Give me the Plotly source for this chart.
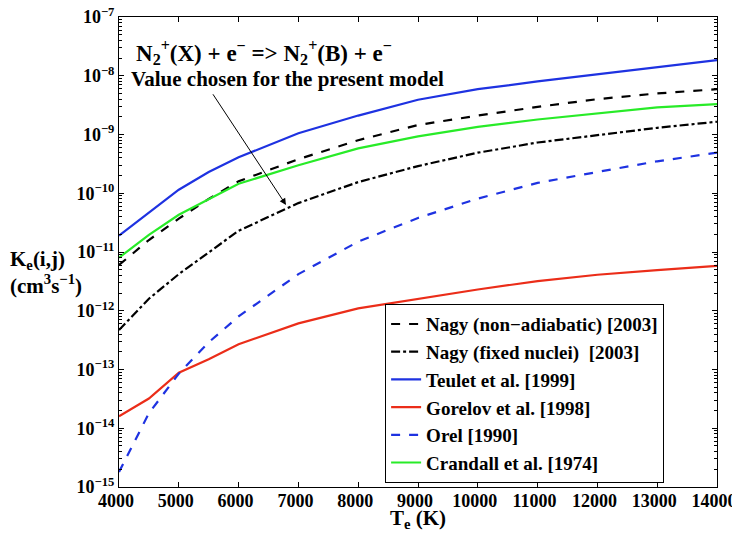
import plotly.graph_objects as go

# Electron temperature (K)
T = [4000, 4500, 5000, 5500, 6000, 7000, 8000, 9000, 10000, 11000, 12000, 13000, 14000]

nagy_nonadiabatic = [6.0e-12, 1.6e-11, 3.7e-11, 8.0e-11, 1.6e-10, 3.8e-10, 8.0e-10, 1.45e-9, 2.1e-9, 2.95e-9, 4.0e-9, 5.0e-9, 5.9e-9]
nagy_fixed = [4.7e-13, 1.6e-12, 4.2e-12, 1.0e-11, 2.3e-11, 6.8e-11, 1.55e-10, 2.9e-10, 4.9e-10, 7.3e-10, 9.8e-10, 1.3e-9, 1.65e-9]
teulet = [1.9e-11, 4.7e-11, 1.15e-10, 2.3e-10, 4.1e-10, 1.05e-9, 2.1e-9, 3.9e-9, 5.9e-9, 8.0e-9, 1.05e-8, 1.4e-8, 1.85e-8]
gorelov = [1.6e-14, 3.2e-14, 8.8e-14, 1.5e-13, 2.7e-13, 6.1e-13, 1.1e-12, 1.6e-12, 2.3e-12, 3.2e-12, 4.1e-12, 4.9e-12, 5.8e-12]
orel = [1.8e-15, 1.8e-14, 8.5e-14, 2.9e-13, 8.0e-13, 4.2e-12, 1.5e-11, 3.8e-11, 8.1e-11, 1.5e-10, 2.3e-10, 3.5e-10, 4.9e-10]
crandall = [8.0e-12, 1.95e-11, 4.3e-11, 7.8e-11, 1.45e-10, 3.0e-10, 5.8e-10, 9.3e-10, 1.35e-9, 1.8e-9, 2.3e-9, 2.9e-9, 3.3e-9]

x_ticks = [4000, 5000, 6000, 7000, 8000, 9000, 10000, 11000, 12000, 13000, 14000]
x_ticktext = [str(v) for v in x_ticks]
y_exponents = [-15, -14, -13, -12, -11, -10, -9, -8, -7]
y_tickvals = [10.0 ** e for e in y_exponents]
y_ticktext = ["10<sup>\u2212%d</sup>" % (-e) for e in y_exponents]
y_minor = [k * 10.0 ** e for e in y_exponents[:-1] for k in range(2, 10)]

FONT = "Liberation Serif"
FS = 21
TICK_FS = 18

series = [
    ("Nagy (non\u2212adiabatic) [2003]", nagy_nonadiabatic, "black", "dash"),
    ("Nagy (fixed nuclei)  [2003]", nagy_fixed, "black", "dashdot"),
    ("Teulet et al. [1999]", teulet, "rgb(30,50,225)", "solid"),
    ("Gorelov et al. [1998]", gorelov, "rgb(235,45,25)", "solid"),
    ("Orel [1990]", orel, "rgb(30,50,225)", "dash"),
    ("Crandall et al. [1974]", crandall, "rgb(40,235,40)", "solid"),
]

fig = go.Figure()
for name, vals, color, dash in series:
    fig.add_trace(go.Scatter(x=T, y=vals, mode="lines", name=name,
                             line=dict(color=color, width=2.2, dash=dash)))

# page body has an 8px margin: figure is sized/offset to keep the plot area in place
fig.update_layout(
    width=732, height=529,
    margin=dict(l=111, r=23, t=9, b=50, autoexpand=False),
    paper_bgcolor="white", plot_bgcolor="white",
    font=dict(family=FONT, size=FS, color="black", weight="bold"),
    legend=dict(x=0.445, y=0.389, xanchor="left", yanchor="top",
                bgcolor="white", bordercolor="black", borderwidth=1,
                font=dict(family=FONT, size=19, color="black", weight="bold"),
                tracegroupgap=0),
    showlegend=True,
)

fig.update_xaxes(range=[4000, 14000], tickmode="array", tickvals=x_ticks, ticktext=x_ticktext,
                 ticks="inside", ticklen=5, tickcolor="black", automargin=False,
                 ticklabelstandoff=-3, ticklabelshift=-3, ticklabeloverflow="allow",
                 showline=True, linecolor="black", linewidth=1, mirror="allticks",
                 showgrid=False, zeroline=False,
                 tickfont=dict(family=FONT, size=TICK_FS, color="black", weight="bold"))
fig.update_yaxes(type="log", range=[-15, -7], tickmode="array",
                 tickvals=y_tickvals, ticktext=y_ticktext, automargin=False,
                 ticklabeloverflow="allow",
                 ticks="inside", ticklen=5, tickcolor="black",
                 minor=dict(tickmode="array", tickvals=y_minor, ticks="inside",
                            ticklen=3, tickcolor="black", showgrid=False),
                 showline=True, linecolor="black", linewidth=1, mirror="allticks",
                 showgrid=False, zeroline=False,
                 tickfont=dict(family=FONT, size=TICK_FS, color="black", weight="bold"))

annots = [
    dict(text="N<sub>2</sub><sup>+</sup>(X) + e<sup>\u2212</sup> => N<sub>2</sub><sup>+</sup>(B) + e<sup>\u2212</sup>",
         x=0.025, y=0.925, xanchor="left", yanchor="middle", size=23),
    dict(text="Value chosen for the present model",
         x=0.017, y=0.868, xanchor="left", yanchor="middle", size=FS),
    dict(text="K<sub>e</sub>(i,j)", x=-0.186, y=0.483, xanchor="left", yanchor="middle", size=FS),
    dict(text="(cm<sup>3</sup>s<sup>\u22121</sup>)", x=-0.186, y=0.430, xanchor="left", yanchor="middle", size=FS),
    dict(text="T<sub>e</sub> (K)", x=0.5, y=-0.068, xanchor="center", yanchor="middle", size=FS),
]
for a in annots:
    size = a.pop("size")
    fig.add_annotation(xref="paper", yref="paper", showarrow=False,
                       font=dict(family=FONT, size=size, color="black", weight="bold"), **a)

# Arrow pointing to the chosen curve
fig.add_annotation(x=6793, y=-10.20, ax=5555, ay=-8.29,
                   xref="x", yref="y", axref="x", ayref="y",
                   text="", showarrow=True, arrowhead=2, arrowsize=1.3,
                   arrowwidth=1, arrowcolor="black")

fig.write_html("out.html")
